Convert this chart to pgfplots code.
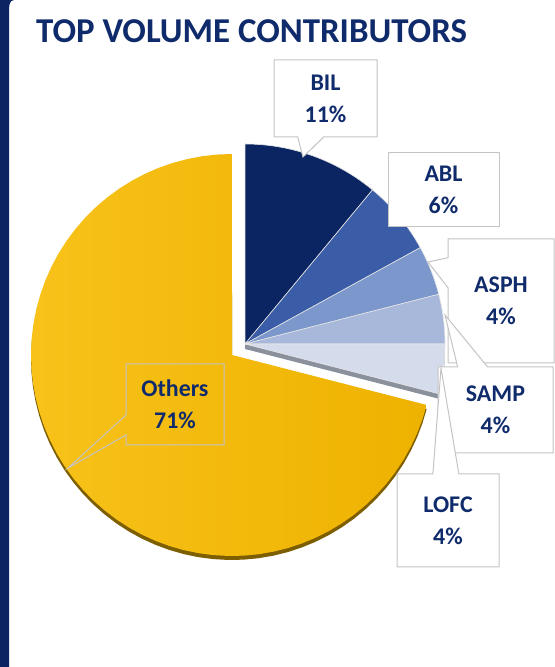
\documentclass[border=0pt]{standalone}
\usepackage{fontspec}
\setmainfont{Carlito}
\usepackage{pgfplots}
\pgfplotsset{compat=1.18}
\usetikzlibrary{shapes.callouts}

\definecolor{strip}{HTML}{0C2461}
\definecolor{ttl}{HTML}{0F2B6B}
\definecolor{cBIL}{HTML}{0B2563}
\definecolor{cABL}{HTML}{3B5CA6}
\definecolor{cASPH}{HTML}{7B97CB}
\definecolor{cSAMP}{HTML}{A8B8DB}
\definecolor{cLOFC}{HTML}{D4DCEC}
\definecolor{goldL}{HTML}{F8C21A}
\definecolor{goldR}{HTML}{EEB200}
\definecolor{rim}{HTML}{7D5E00}
\definecolor{bshadow}{HTML}{8A909C}
\definecolor{boxline}{HTML}{C4C4C4}

% #1 start (percent), #2 value (percent), #3 style, #4 cx, #5 cy, #6 radius
\newcommand\slice[6]{%
\addplot[#3, variable=\t, samples at={-1,0,...,61}]
 ({#4+ifthenelse(or(\t<0,\t>60),0,#6)*cos(90-3.6*(#1+#2*min(max(\t,0),60)/60))},
  {#5+ifthenelse(or(\t<0,\t>60),0,#6)*sin(90-3.6*(#1+#2*min(max(\t,0),60)/60))});
}

\tikzset{lab/.style={font=\fontsize{24}{32}\selectfont\bfseries, text=ttl, align=center,
  draw=boxline, line width=1bp, inner sep=0pt}}

\begin{document}
\begin{tikzpicture}
\begin{axis}[at={(0,0)}, anchor=south west, width=555bp, height=667bp, scale only axis,
  xmin=0, xmax=555, ymin=0, ymax=667, axis lines=none, clip=false]
\coordinate (SW) at (rel axis cs:0,0);
\coordinate (NE) at (rel axis cs:1,1);

% Others (71%) with rim
\slice{29}{71}{fill=rim, draw=none}{232}{308}{201}
\slice{29}{71}{left color=goldL, right color=goldR, draw=none}{232}{312}{201}
% blue group shadow
\slice{0}{29}{fill=bshadow, draw=none}{245}{318}{200}
% blue slices
\slice{0}{11}{fill=cBIL, draw=white!80!gray, line width=0.6bp}{245}{323}{200}
\slice{11}{6}{fill=cABL, draw=white!80!gray, line width=0.6bp}{245}{323}{200}
\slice{17}{4}{fill=cASPH, draw=white!80!gray, line width=0.6bp}{245}{323}{200}
\slice{21}{4}{fill=cSAMP, draw=white!80!gray, line width=0.6bp}{245}{323}{200}
\slice{25}{4}{fill=cLOFC, draw=white!80!gray, line width=0.6bp}{245}{323}{200}

% left strip
\fill[strip] (axis cs:0,0) -- (axis cs:0,667) -- (axis cs:14,667)
  to[out=180,in=90] (axis cs:9,655) -- (axis cs:9,0) -- cycle;

% title
\node[anchor=base west, inner sep=0pt, font=\fontsize{35}{40}\selectfont\bfseries, text=ttl]
  at (axis cs:36,624) {TOP VOLUME CONTRIBUTORS};

% labels
\node[lab, fill=white, rectangle callout, minimum width=103bp, minimum height=77bp,
  callout absolute pointer={(axis cs:303,510)}, callout pointer width=26bp]
  at (axis cs:325.5,568.5) {BIL\\11\%};
\node[lab, fill=white, rectangle, minimum width=111bp, minimum height=74bp]
  at (axis cs:443.5,477) {ABL\\6\%};
\node[lab, fill=white, rectangle callout, minimum width=106bp, minimum height=124bp,
  callout absolute pointer={(axis cs:428,405)}, callout pointer width=30bp]
  at (axis cs:501,366) {ASPH\\4\%};
\node[lab, fill=white, rectangle callout, minimum width=115bp, minimum height=86bp,
  callout absolute pointer={(axis cs:445,352)}, callout pointer width=30bp]
  at (axis cs:495.5,257) {SAMP\\4\%};
\node[lab, fill=white, rectangle callout, minimum width=102bp, minimum height=93bp,
  callout absolute pointer={(axis cs:441,299)}, callout pointer width=26bp]
  at (axis cs:448,146.5) {LOFC\\4\%};
\node[lab, rectangle callout, minimum width=98bp, minimum height=81bp,
  callout absolute pointer={(axis cs:68,199)}, callout pointer width=20bp]
  at (axis cs:175,262.5) {Others\\71\%};
\end{axis}
\pgfresetboundingbox
\path[use as bounding box] (SW) rectangle (NE);
\end{tikzpicture}
\end{document}
